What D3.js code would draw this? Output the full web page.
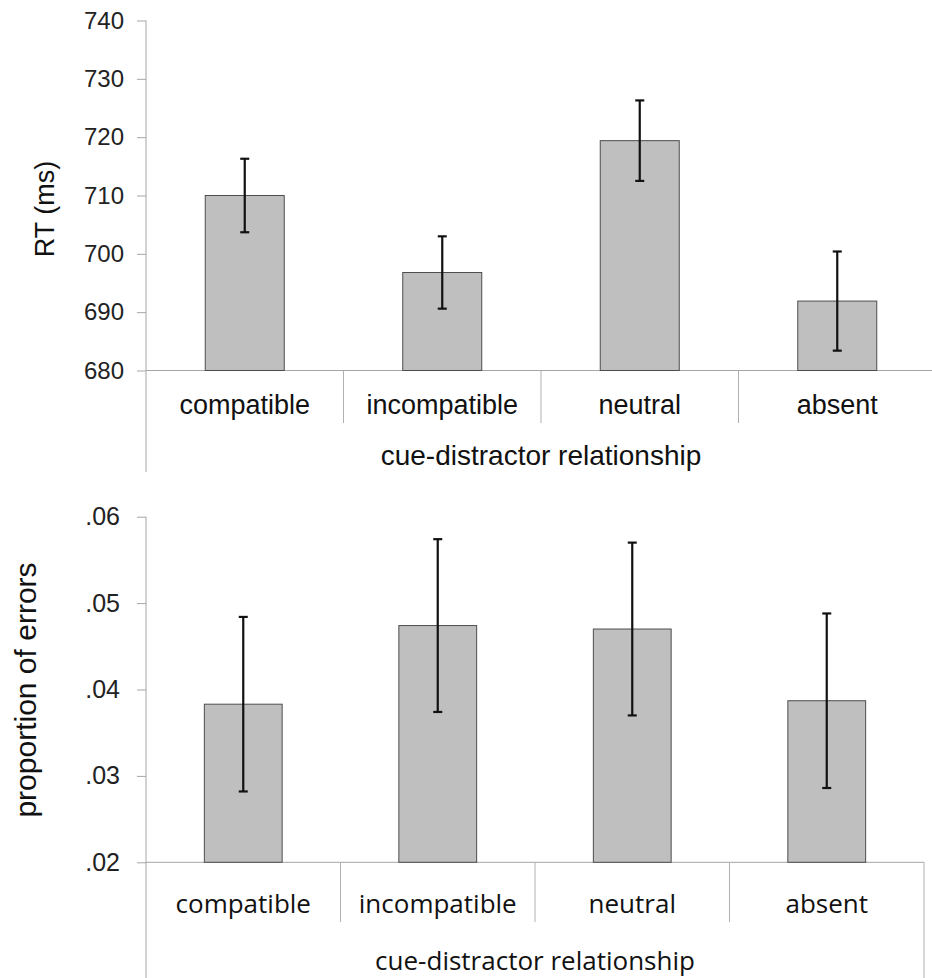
<!DOCTYPE html>
<html>
<head>
<meta charset="utf-8">
<script src="https://cdn.jsdelivr.net/npm/d3@7"></script>
<style>
  body { margin: 0; background: #fff; }
  svg { display: block; }
  .axis path, .axis line { stroke: #a6a6a6; }
</style>
</head>
<body>
<svg id="chart" width="932" height="978"></svg>
<script>
// data
var categories = ['compatible', 'incompatible', 'neutral', 'absent'];
var rtMeans = [710.0, 696.8, 719.4, 691.9];
var rtErrors = [6.3, 6.2, 6.9, 8.5];
var rtTicks = [680, 690, 700, 710, 720, 730, 740];
var errMeans = [0.0383, 0.0474, 0.0470, 0.0387];
var errErrors = [0.0101, 0.0100, 0.0100, 0.0101];
var errTicks = [0.02, 0.03, 0.04, 0.05, 0.06];

var svg = d3.select('#chart');

function drawPanel(opts) {
  var g = svg.append('g');
  var rows = categories.map(function(c, i) {
    return {cat: c, mean: opts.means[i], err: opts.errors[i]};
  });

  var x = d3.scaleBand()
    .domain(categories)
    .range([opts.left, opts.right])
    .paddingInner(0.6)
    .paddingOuter(0.3);
  var y = d3.scaleLinear()
    .domain(opts.domain)
    .range([opts.bottom, opts.top]);

  // y axis
  var yAxis = g.append('g')
    .attr('class', 'axis')
    .attr('transform', 'translate(' + opts.left + ',0)')
    .call(d3.axisLeft(y).tickValues(opts.ticks).tickSize(9).tickPadding(opts.tickPad).tickFormat(opts.fmt));
  yAxis.select('.domain').remove();
  yAxis.selectAll('text')
    .attr('fill', '#222')
    .style('font-family', 'Liberation Sans, Arial, sans-serif')
    .style('font-size', opts.tickFont + 'px');

  // vertical axis line runs down past the category labels
  g.append('line')
    .attr('x1', opts.left).attr('x2', opts.left)
    .attr('y1', opts.top).attr('y2', opts.axisEnd)
    .attr('stroke', '#a6a6a6');

  // baseline
  g.append('line')
    .attr('x1', opts.left).attr('x2', opts.right)
    .attr('y1', opts.bottom).attr('y2', opts.bottom)
    .attr('stroke', '#a6a6a6');

  // separators between category labels
  var step = x.step();
  g.selectAll('.sep')
    .data(categories.slice(1))
    .enter().append('line')
    .attr('class', 'sep')
    .attr('x1', function(d) { return x(d) + x.bandwidth() / 2 - step / 2; })
    .attr('x2', function(d) { return x(d) + x.bandwidth() / 2 - step / 2; })
    .attr('y1', opts.bottom)
    .attr('y2', opts.sepEnd)
    .attr('stroke', '#b0b0b0');

  if (opts.rightBorder) {
    g.append('line')
      .attr('x1', opts.right).attr('x2', opts.right)
      .attr('y1', opts.bottom).attr('y2', opts.axisEnd)
      .attr('stroke', '#b0b0b0');
  }

  // bars
  g.selectAll('.bar')
    .data(rows)
    .enter().append('rect')
    .attr('class', 'bar')
    .attr('x', function(d) { return x(d.cat); })
    .attr('width', x.bandwidth())
    .attr('y', function(d) { return y(d.mean); })
    .attr('height', function(d) { return opts.bottom - y(d.mean); })
    .attr('fill', '#bfbfbf')
    .attr('stroke', '#4d4d4d')
    .attr('stroke-width', 1);

  // error bars
  var eb = g.selectAll('.eb')
    .data(rows)
    .enter().append('g')
    .attr('class', 'eb')
    .attr('transform', function(d) { return 'translate(' + (x(d.cat) + x.bandwidth() / 2) + ',0)'; });
  eb.append('line')
    .attr('y1', function(d) { return y(d.mean + d.err); })
    .attr('y2', function(d) { return y(d.mean - d.err); })
    .attr('stroke', '#111').attr('stroke-width', 2.2);
  eb.append('line')
    .attr('x1', -4.5).attr('x2', 4.5)
    .attr('y1', function(d) { return y(d.mean + d.err); })
    .attr('y2', function(d) { return y(d.mean + d.err); })
    .attr('stroke', '#111').attr('stroke-width', 2.2);
  eb.append('line')
    .attr('x1', -4.5).attr('x2', 4.5)
    .attr('y1', function(d) { return y(d.mean - d.err); })
    .attr('y2', function(d) { return y(d.mean - d.err); })
    .attr('stroke', '#111').attr('stroke-width', 2.2);

  // category labels
  g.selectAll('.cat')
    .data(categories)
    .enter().append('text')
    .attr('class', 'cat')
    .attr('x', function(d) { return x(d) + x.bandwidth() / 2; })
    .attr('y', opts.catY)
    .attr('text-anchor', 'middle')
    .attr('fill', '#111')
    .style('font-family', opts.catFamily)
    .style('font-size', opts.catFont + 'px')
    .text(function(d) { return d; });

  // x title
  g.append('text')
    .attr('x', (opts.left + opts.right) / 2)
    .attr('y', opts.xTitleY)
    .attr('text-anchor', 'middle')
    .attr('fill', '#111')
    .style('font-family', opts.catFamily)
    .style('font-size', opts.xTitleFont + 'px')
    .text('cue-distractor relationship');

  // y title
  g.append('text')
    .attr('transform', 'translate(' + opts.yTitleX + ',' + opts.yTitleY + ') rotate(-90)')
    .attr('text-anchor', 'middle')
    .attr('fill', '#111')
    .style('font-family', 'Liberation Sans, Arial, sans-serif')
    .style('font-size', opts.yTitleFont + 'px')
    .text(opts.yTitle);
}

drawPanel({
  means: rtMeans, errors: rtErrors, ticks: rtTicks,
  domain: [680, 740], fmt: d3.format('d'),
  left: 146, right: 936, top: 20.5, bottom: 370.5,
  axisEnd: 472, sepEnd: 423,
  tickPad: 13, tickFont: 24,
  catFamily: 'Liberation Sans, Arial, sans-serif', catFont: 27, catY: 414,
  xTitleY: 465, xTitleFont: 28,
  yTitle: 'RT (ms)', yTitleX: 54, yTitleY: 209, yTitleFont: 27,
  rightBorder: false
});

drawPanel({
  means: errMeans, errors: errErrors, ticks: errTicks,
  domain: [0.02, 0.06], fmt: function(d) { return d3.format('.2f')(d).replace(/^0/, ''); },
  left: 146, right: 924, top: 516.7, bottom: 862.3,
  axisEnd: 978, sepEnd: 922,
  tickPad: 17, tickFont: 25,
  catFamily: 'Open Sans, Noto Sans, sans-serif', catFont: 26, catY: 913,
  xTitleY: 970, xTitleFont: 26,
  yTitle: 'proportion of errors', yTitleX: 36, yTitleY: 690, yTitleFont: 30,
  rightBorder: true
});
</script>
</body>
</html>
